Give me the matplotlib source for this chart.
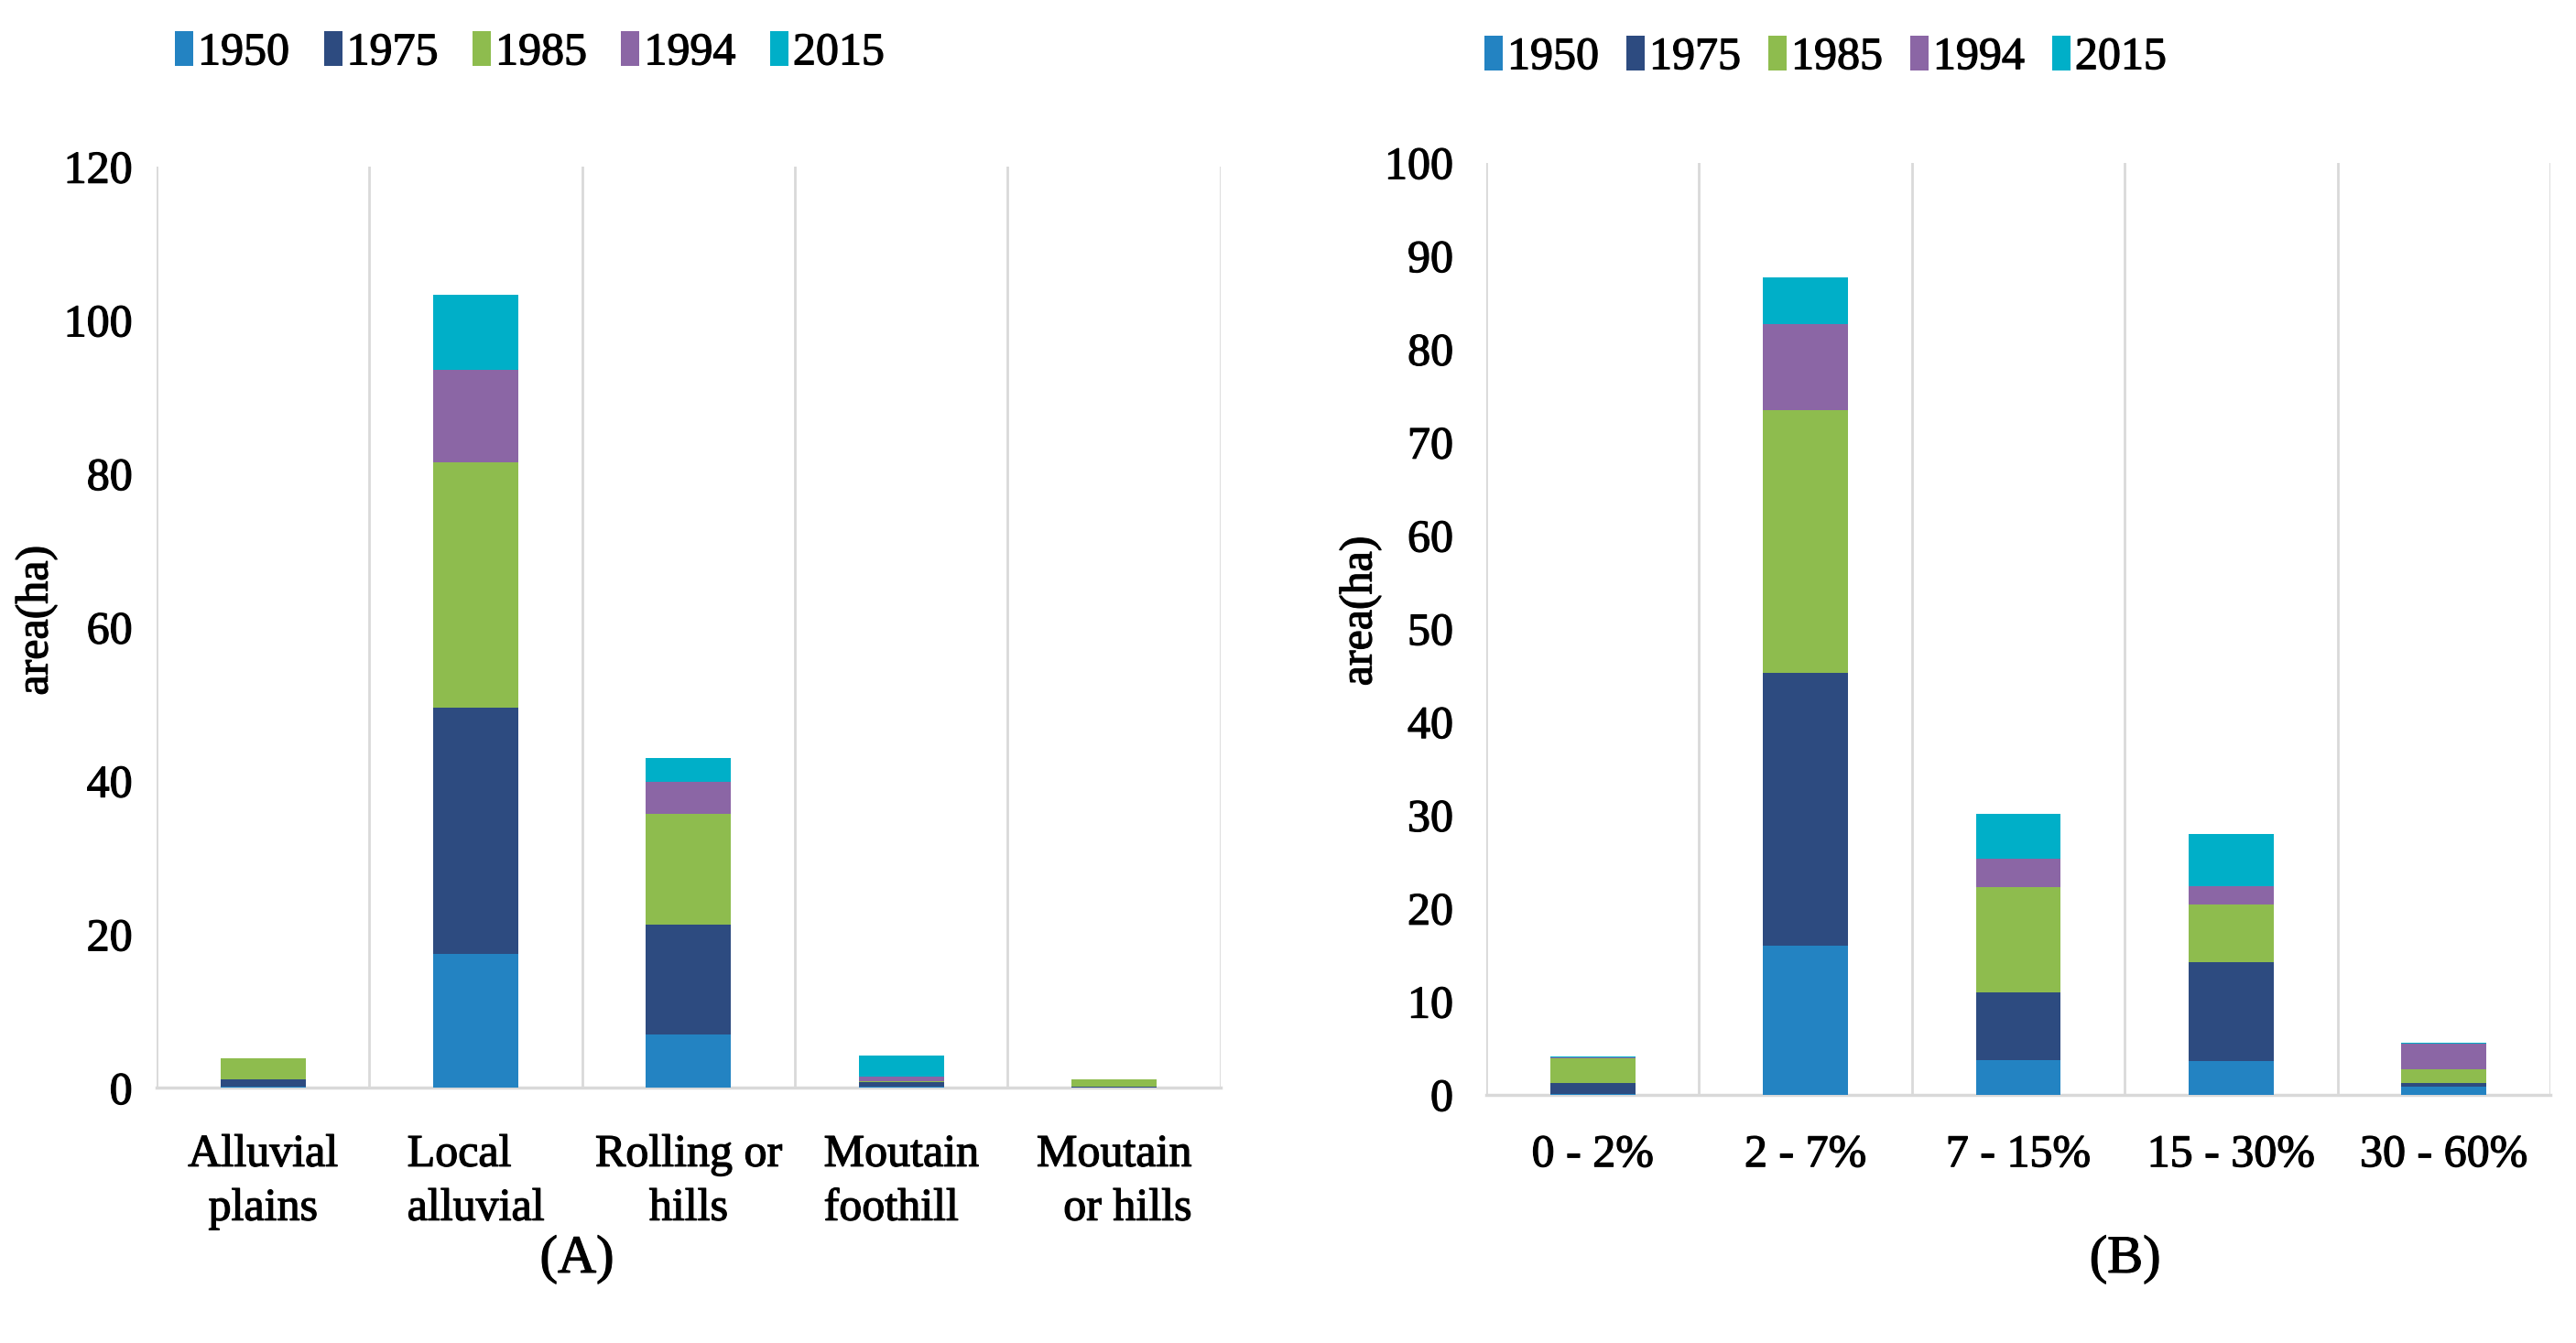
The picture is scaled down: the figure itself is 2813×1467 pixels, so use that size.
import numpy as np
import matplotlib.pyplot as plt
import matplotlib.patheffects as pe

plt.rcParams['font.family'] = ['Liberation Serif', 'DejaVu Serif']

## Data
years = ["1950", "1975", "1985", "1994", "2015"]
colors = ["#2383C2", "#2D4B80", "#8EBC4E", "#8B66A5", "#00AFC8"]

landforms = ["Alluvial\nplains", "Local\nalluvial", "Rolling or\nhills",
             "Moutain\nfoothill", "Moutain\nor hills"]
land_align = ["center", "left", "center", "left", "right"]
land_vals = [
    [0.2, 17.5, 6.9, 0.2, 0.0],    # 1950
    [0.9, 32.0, 14.3, 0.6, 0.1],   # 1975
    [2.8, 32.0, 14.5, 0.1, 1.0],   # 1985
    [0.0, 12.0, 4.2, 0.55, 0.0],   # 1994
    [0.0, 9.8, 3.0, 2.75, 0.0],    # 2015
]

slopes = ["0 - 2%", "2 - 7%", "7 - 15%", "15 - 30%", "30 - 60%"]
slope_vals = [
    [0.1, 16.0, 3.7, 3.6, 0.8],    # 1950
    [1.1, 29.2, 7.3, 10.6, 0.4],   # 1975
    [2.7, 28.2, 11.3, 6.2, 1.5],   # 1985
    [0.05, 9.3, 3.0, 2.0, 2.8],    # 1994
    [0.15, 5.0, 4.8, 5.6, 0.1],    # 2015
]

W, H = 2813, 1467
fig = plt.figure(figsize=(W / 100, H / 100), dpi=100)
fs = 36
grid_c = "#D9D9D9"
thick = [pe.withStroke(linewidth=0.9, foreground="black")]


def stacked(ax, cats, vals, ymax, step, colspace):
    x = np.arange(len(cats))
    bottom = np.zeros(len(cats))
    for yr, v, c in zip(years, vals, colors):
        v = np.array(v)
        ax.bar(x, v, 0.4, bottom=bottom, color=c, label=yr, zorder=3)
        bottom += v
    ax.set_xlim(-0.5, len(cats) - 0.5)
    ax.set_ylim(0, ymax)
    ax.set_yticks(np.arange(0, ymax + 1, step))
    ax.set_xticks(x)
    ax.set_xticklabels(cats, linespacing=1.35)
    for b in np.arange(-0.5, len(cats), 1.0):
        ax.axvline(b, color=grid_c, lw=2, zorder=1)
    for s in ["top", "right", "left"]:
        ax.spines[s].set_visible(False)
    ax.spines["bottom"].set_color(grid_c)
    ax.spines["bottom"].set_linewidth(2.5)
    ax.tick_params(axis="y", length=0, pad=19, labelsize=fs)
    ax.tick_params(axis="x", length=0, pad=36, labelsize=fs)
    for lab in ax.get_xticklabels() + ax.get_yticklabels():
        lab.set_path_effects(thick)
    leg = ax.legend(loc="lower left", bbox_to_anchor=(0.0, 1.08), ncol=5, frameon=False,
                    fontsize=fs, handlelength=0.4, handleheight=0.8, handletextpad=0.1,
                    columnspacing=colspace, borderaxespad=0)
    for t in leg.get_texts():
        t.set_path_effects(thick)
    return leg


axA = fig.add_axes([0.0608, 0.190, 0.413, 0.686])
stacked(axA, landforms, land_vals, 120, 20, 0.75)
for lab, al in zip(axA.get_xticklabels(), land_align):
    lab.set_multialignment(al)

axB = fig.add_axes([0.577, 0.185, 0.413, 0.694])
legB = stacked(axB, slopes, slope_vals, 100, 10, 0.6)
axB.tick_params(axis="y", pad=26)
axB.tick_params(axis="x", pad=31)
legB.set_bbox_to_anchor((-0.019, 1.07))

fig.text(0.014, 0.538, "area(ha)", rotation=90, ha="center", va="center",
         fontsize=fs, path_effects=thick)
fig.text(0.528, 0.545, "area(ha)", rotation=90, ha="center", va="center",
         fontsize=fs, path_effects=thick)
fig.text(0.224, 0.062, "(A)", ha="center", va="center", fontsize=fs + 6, path_effects=thick)
fig.text(0.825, 0.062, "(B)", ha="center", va="center", fontsize=fs + 6, path_effects=thick)

plt.savefig("out.png", dpi=100)
